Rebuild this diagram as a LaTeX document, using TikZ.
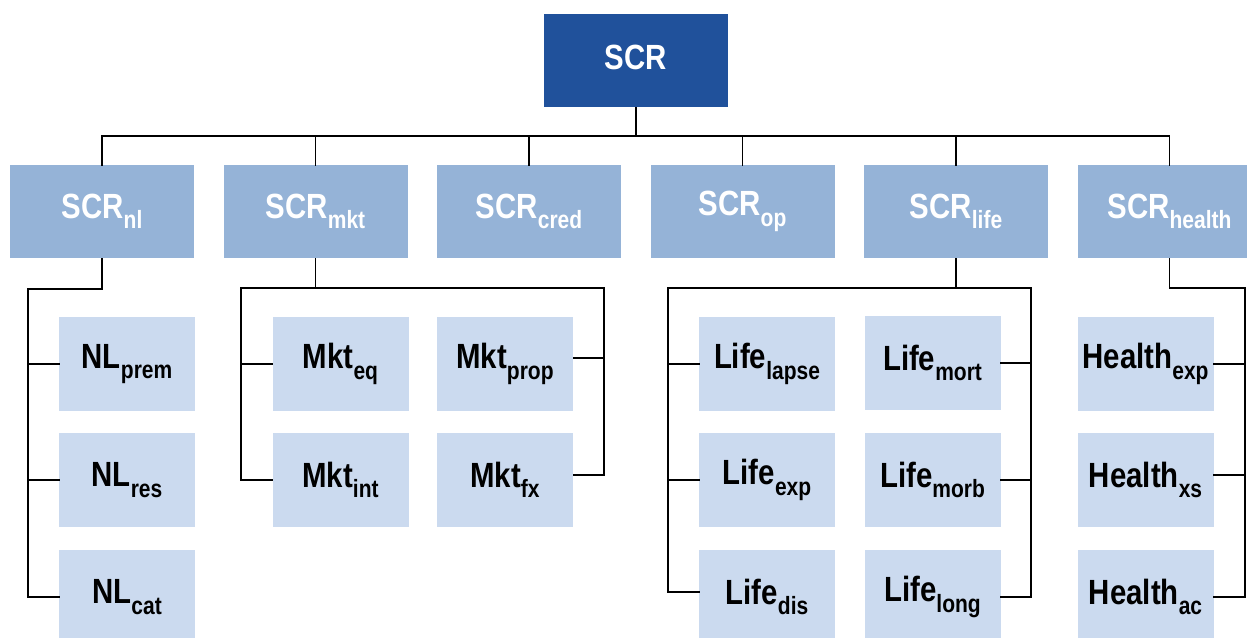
\documentclass[tikz,border=0pt]{standalone}
\usepackage{fontspec}
\newfontfamily\nb{Liberation Sans Bold}[FakeStretch=0.84]
\newcommand\mysub[1]{\raisebox{-10.5pt}{\fontsize{25}{25}\selectfont #1}}
\definecolor{topblue}{HTML}{20519B}
\definecolor{midblue}{HTML}{95B3D7}
\definecolor{lowblue}{HTML}{CBDAEF}
\tikzset{
  boxbase/.style={rectangle, inner sep=0pt, draw=none, font=\nb\fontsize{35}{35}\selectfont},
  lvone/.style={boxbase, fill=topblue, text=white, minimum width=184pt, minimum height=93pt, text depth=6pt},
  lvtwo/.style={boxbase, fill=midblue, text=white, minimum width=184pt, minimum height=93pt},
  lvthree/.style={boxbase, fill=lowblue, text=black, minimum width=136pt, minimum height=94pt},
  conn/.style={draw=black, line width=1.4pt, line cap=rect}
}
\begin{document}
\begin{tikzpicture}[x=1pt,y=-1pt]
\useasboundingbox (0,0) rectangle (1247,637);
\clip (0,0) rectangle (1247,637);
\fill[white] (0,0) rectangle (1247,637);
% level 1
\node[lvone] (scr) at (636,60.5) {SCR};
% level 2
\node[lvtwo] (nl) at (102,211.5) {SCR\mysub{nl}};
\node[lvtwo] (mkt) at (315.5,211.5) {SCR\mysub{mkt}};
\node[lvtwo] (cred) at (529,211.5) {SCR\mysub{cred}};
\node[lvtwo] (op) at (742.5,211.5) {SCR\mysub{op}};
\node[lvtwo] (life) at (956,211.5) {SCR\mysub{life}};
\node[lvtwo] (health) at (1169.5,211.5) {SCR\mysub{health}};
% level 3
\node[lvthree] (nlprem) at (127,364) {NL\mysub{prem}};
\node[lvthree] (nlres) at (127,480) {NL\mysub{res}};
\node[lvthree] (nlcat) at (127,597) {NL\mysub{cat}};
\node[lvthree] (mkteq) at (340.5,364) {Mkt\mysub{eq}};
\node[lvthree] (mktint) at (340.5,480) {Mkt\mysub{int}};
\node[lvthree] (mktprop) at (505,364) {Mkt\mysub{prop}};
\node[lvthree] (mktfx) at (505,480) {Mkt\mysub{fx}};
\node[lvthree] (lifelapse) at (767,364) {Life\mysub{lapse}};
\node[lvthree] (lifeexp) at (767,480) {Life\mysub{exp}};
\node[lvthree] (lifedis) at (767,597) {Life\mysub{dis}};
\node[lvthree] (lifemort) at (932.5,363) {Life\mysub{mort}};
\node[lvthree] (lifemorb) at (932.5,480) {Life\mysub{morb}};
\node[lvthree] (lifelong) at (932.5,597) {Life\mysub{long}};
\node[lvthree] (hexp) at (1145.5,364) {Health\mysub{exp}};
\node[lvthree] (hxs) at (1145.5,480) {Health\mysub{xs}};
\node[lvthree] (hac) at (1145.5,597) {Health\mysub{ac}};
% top bus
\coordinate (bus) at (636,136);
\draw[conn] (scr.south) -- (scr.south |- bus);
\draw[conn] (nl.north |- bus) -- (health.north |- bus);
\foreach \n in {nl,mkt,cred,op,life,health}{
  \draw[conn] (\n.north |- bus) -- (\n.north);
}
% NL branch
\coordinate (nlj) at (28,289);
\draw[conn] (nl.south) |- (nlj) |- (nlcat.west);
\draw[conn] (nlj |- nlprem.west) -- (nlprem.west);
\draw[conn] (nlj |- nlres.west) -- (nlres.west);
% Mkt branch
\coordinate (mktl) at (241,288);
\coordinate (mktr) at (604,288);
\coordinate (mktpj) at ([yshift=6pt]mktprop.east);
\coordinate (mktfj) at ([yshift=5pt]mktfx.east);
\draw[conn] (mkt.south) -- (mkt.south |- mktl);
\draw[conn] (mktl) -- (mktr);
\draw[conn] (mktl) |- (mktint.west);
\draw[conn] (mktl |- mkteq.west) -- (mkteq.west);
\draw[conn] (mktr) |- (mktfj);
\draw[conn] (mktr |- mktpj) -- (mktpj);
% Life branch
\coordinate (lifel) at (668,288);
\coordinate (lifer) at (1031,288);
\coordinate (lifedj) at ([yshift=5pt]lifedis.west);
\draw[conn] (life.south) -- (life.south |- lifel);
\draw[conn] (lifel) -- (lifer);
\draw[conn] (lifel) |- (lifedj);
\draw[conn] (lifel |- lifelapse.west) -- (lifelapse.west);
\draw[conn] (lifel |- lifeexp.west) -- (lifeexp.west);
\draw[conn] (lifer) |- (lifelong.east);
\draw[conn] (lifer |- lifemort.east) -- (lifemort.east);
\draw[conn] (lifer |- lifemorb.east) -- (lifemorb.east);
% Health branch
\coordinate (hr) at (1245,288);
\coordinate (hxj) at ([yshift=5pt]hxs.east);
\draw[conn] (health.south) |- (hr) |- (hac.east);
\draw[conn] (hr |- hexp.east) -- (hexp.east);
\draw[conn] (hr |- hxj) -- (hxj);
\end{tikzpicture}
\end{document}
